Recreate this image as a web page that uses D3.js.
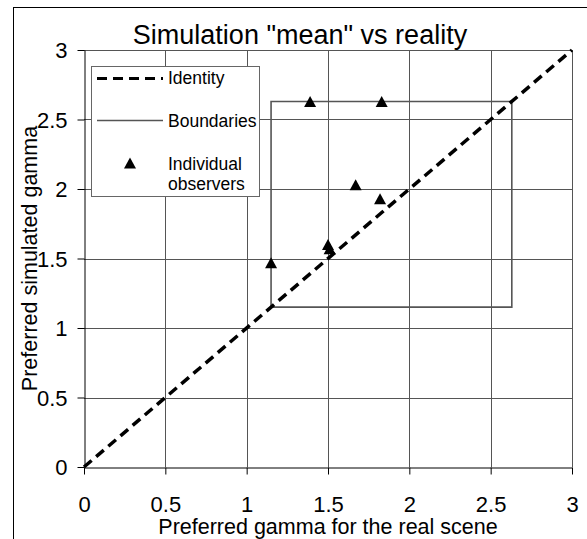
<!DOCTYPE html>
<html>
<head>
<meta charset="utf-8">
<script src="https://cdn.jsdelivr.net/npm/d3@7"></script>
<style>
html,body{margin:0;padding:0;background:#fff;}
svg{display:block;}
text{font-family:"Liberation Sans",Arial,sans-serif;fill:#000;}
</style>
</head>
<body>
<svg id="chart" width="587" height="539"></svg>
<script>
// ---- data ----
const tickValues = [0, 0.5, 1, 1.5, 2, 2.5, 3];
const tickLabels = ["0", "0.5", "1", "1.5", "2", "2.5", "3"];
const identityX = [0, 3];
const identityY = [0, 3];
const boundX = [1.15, 1.15, 2.63, 2.63, 1.15];
const boundY = [1.15, 2.63, 2.63, 1.15, 1.15];
const obsX = [1.15, 1.39, 1.83, 1.67, 1.82, 1.50, 1.51];
const obsY = [1.47, 2.63, 2.63, 2.03, 1.93, 1.60, 1.57];
const legendLabels = ["Identity", "Boundaries", ["Individual", "observers"]];

const svg = d3.select("#chart");
const x = d3.scaleLinear().domain([0, 3]).range([84, 572]);
const y = d3.scaleLinear().domain([0, 3]).range([467, 50]);

// outer frame
svg.append("rect").attr("x", 13.5).attr("y", 7.5).attr("width", 600).attr("height", 600)
  .attr("fill", "#fff").attr("stroke", "#000").attr("stroke-width", 1);

// title
svg.append("text").attr("x", 300).attr("y", 44).attr("text-anchor", "middle")
  .attr("font-size", 27).text('Simulation "mean" vs reality');

// gridlines
const grid = svg.append("g").attr("shape-rendering", "crispEdges");
grid.selectAll("line.v").data(tickValues.slice(1)).join("line")
  .attr("x1", d => Math.round(x(d)) + 0.5).attr("x2", d => Math.round(x(d)) + 0.5)
  .attr("y1", y(0)).attr("y2", y(3)).attr("stroke", "#555").attr("stroke-width", 1);
grid.selectAll("line.h").data(tickValues.slice(1)).join("line")
  .attr("y1", d => Math.round(y(d)) + 0.5).attr("y2", d => Math.round(y(d)) + 0.5)
  .attr("x1", x(0)).attr("x2", x(3)).attr("stroke", "#555").attr("stroke-width", 1);

// axes
const xAxis = d3.axisBottom(x).tickValues(tickValues).tickFormat((d, i) => tickLabels[i])
  .tickSizeInner(7).tickSizeOuter(0).tickPadding(10);
const gx = svg.append("g").attr("transform", `translate(0,${Math.round(y(0)) + 0.5})`).call(xAxis);
gx.select(".domain").attr("stroke", "#000");
gx.selectAll(".tick line").attr("stroke", "#000");
gx.selectAll(".tick text").attr("font-size", 22).attr("font-family", '"Liberation Sans",Arial,sans-serif')
  .attr("y", 44).attr("dy", 0);

const yAxis = d3.axisLeft(y).tickValues(tickValues).tickFormat((d, i) => tickLabels[i])
  .tickSizeInner(7).tickSizeOuter(0).tickPadding(10);
const gy = svg.append("g").attr("transform", `translate(${Math.round(x(0)) + 0.5},0)`).call(yAxis);
gy.select(".domain").attr("stroke", "#000");
gy.selectAll(".tick line").attr("stroke", "#000");
gy.selectAll(".tick text").attr("font-size", 22).attr("font-family", '"Liberation Sans",Arial,sans-serif')
  .attr("x", -17).attr("dy", "0.36em");

// axis titles
svg.append("text").attr("x", 328).attr("y", 534).attr("text-anchor", "middle")
  .attr("font-size", 21.5).text("Preferred gamma for the real scene");
svg.append("text").attr("transform", `translate(37,${(y(0) + y(3)) / 2}) rotate(-90)`)
  .attr("text-anchor", "middle").attr("font-size", 21.5).text("Preferred simulated gamma");

// boundaries
const line = d3.line().x(d => x(d[0])).y(d => y(d[1]));
svg.append("path").datum(boundX.map((v, i) => [v, boundY[i]]))
  .attr("d", line).attr("fill", "none").attr("stroke", "#555").attr("stroke-width", 1.6);

// identity
svg.append("path").datum(identityX.map((v, i) => [v, identityY[i]]))
  .attr("d", line).attr("fill", "none").attr("stroke", "#000").attr("stroke-width", 3.5)
  .attr("stroke-dasharray", "10,6");

// observers (triangle, bbox-centred)
const tri = (w, h) => `M0,${-h / 2}L${w / 2},${h / 2}L${-w / 2},${h / 2}Z`;
svg.selectAll("path.obs").data(obsX.map((v, i) => [v, obsY[i]])).join("path")
  .attr("class", "obs").attr("d", tri(12, 11))
  .attr("transform", d => `translate(${x(d[0])},${y(d[1])})`).attr("fill", "#000");

// legend
const lg = svg.append("g");
lg.append("rect").attr("x", 91.5).attr("y", 66.5).attr("width", 168).attr("height", 130)
  .attr("fill", "#fff").attr("stroke", "#666").attr("stroke-width", 1);
lg.append("line").attr("x1", 97).attr("x2", 163).attr("y1", 78.5).attr("y2", 78.5)
  .attr("stroke", "#000").attr("stroke-width", 3).attr("stroke-dasharray", "10,6");
lg.append("line").attr("x1", 97).attr("x2", 163).attr("y1", 120.5).attr("y2", 120.5)
  .attr("stroke", "#555").attr("stroke-width", 1.6);
lg.append("path").attr("d", tri(12, 11)).attr("transform", "translate(130,163)").attr("fill", "#000");
lg.append("text").attr("x", 168).attr("y", 84).attr("font-size", 17.5).text(legendLabels[0]);
lg.append("text").attr("x", 168).attr("y", 127).attr("font-size", 17.5).text(legendLabels[1]);
lg.append("text").attr("x", 168).attr("y", 170).attr("font-size", 17.5).text(legendLabels[2][0]);
lg.append("text").attr("x", 168).attr("y", 190).attr("font-size", 17.5).text(legendLabels[2][1]);
</script>
</body>
</html>
